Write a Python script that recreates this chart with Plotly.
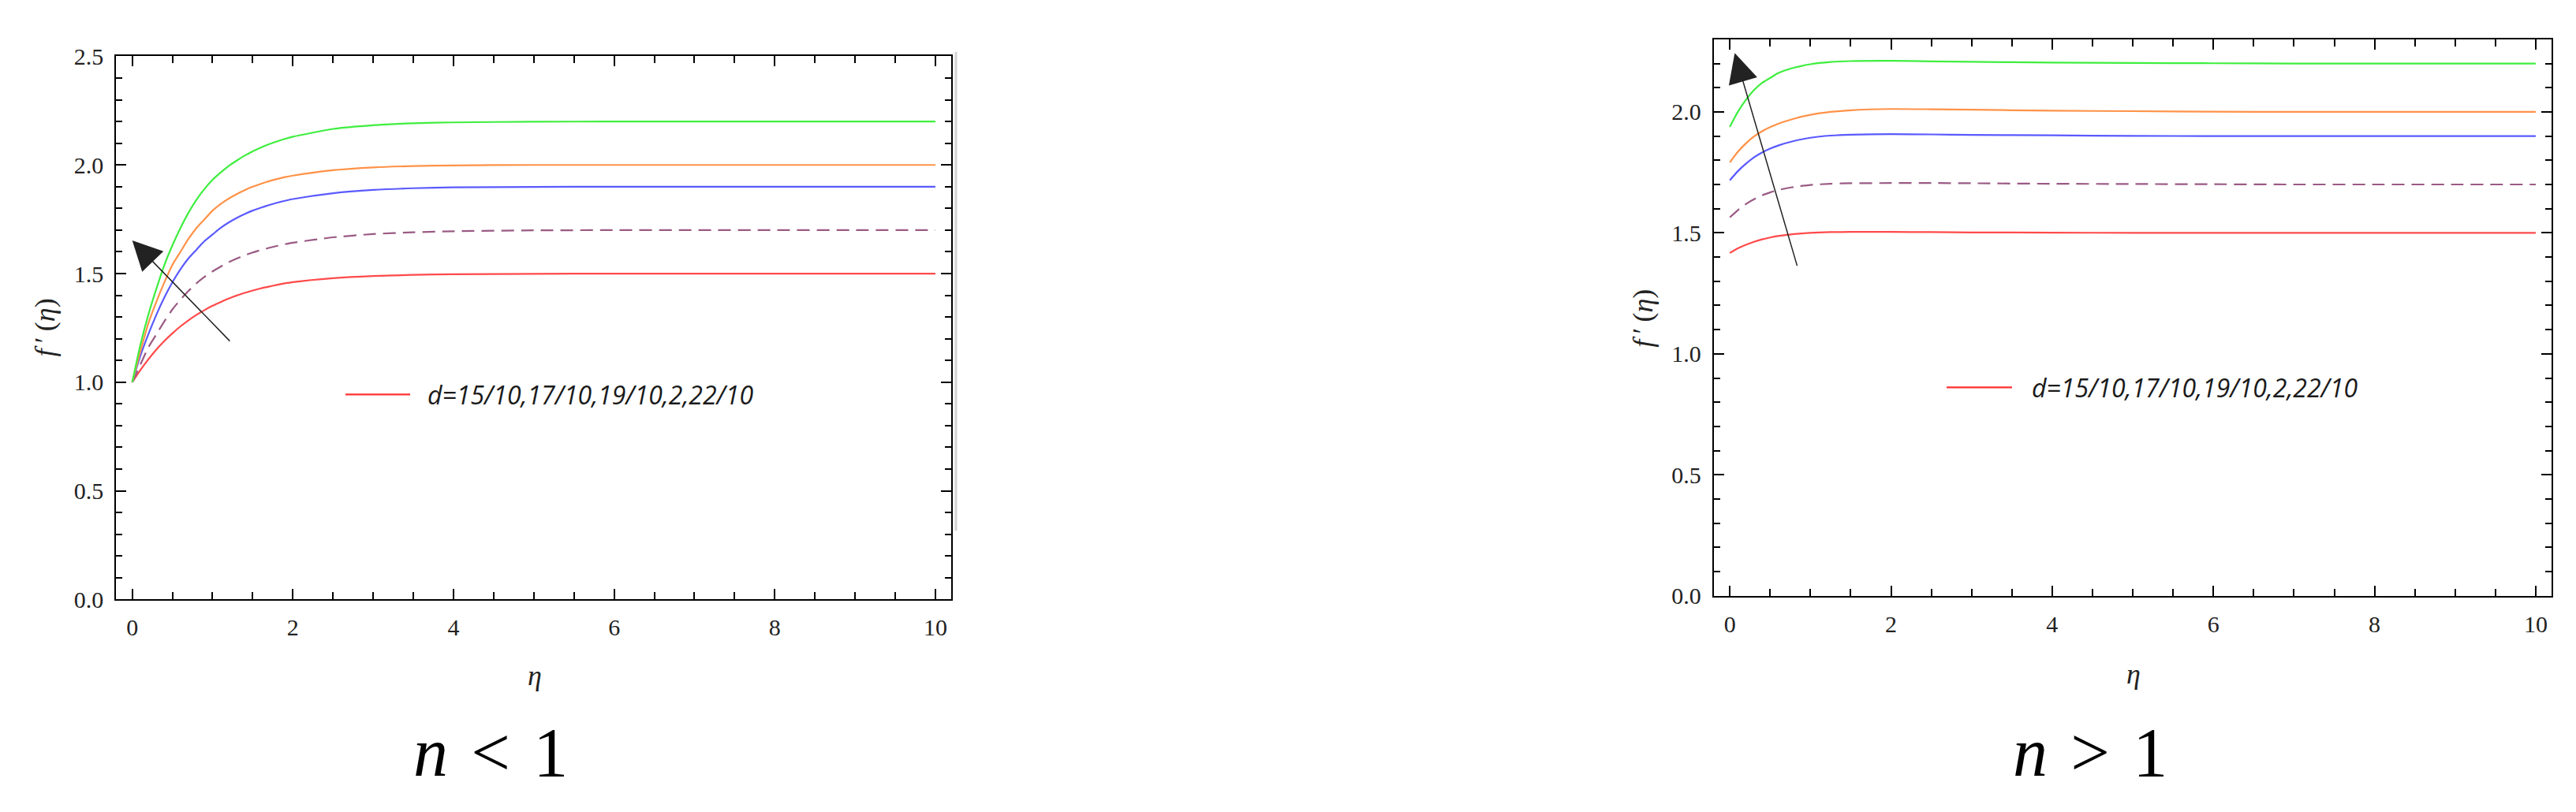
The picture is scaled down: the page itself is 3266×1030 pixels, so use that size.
import plotly.graph_objects as go

W, H = 3266, 1030

# ---------------- data ----------------
eta_left = [0, 0.1, 0.2, 0.3, 0.4, 0.5, 0.6, 0.7, 0.8, 0.9, 1.0, 1.1, 1.2, 1.3, 1.4, 1.5, 1.6, 1.7, 1.8, 1.9, 2.0,
            2.5, 3.0, 3.5, 4.0, 5.0, 6.0, 7.0, 8.0, 9.0, 10.0]
left_d15 = [1.00, 1.055, 1.105, 1.15, 1.19, 1.225, 1.257, 1.285, 1.31, 1.332, 1.352, 1.369, 1.385, 1.399, 1.411, 1.422,
            1.432, 1.44, 1.448, 1.455, 1.461, 1.479, 1.489, 1.494, 1.497, 1.499, 1.5, 1.5, 1.5, 1.5, 1.5]
left_d17 = [1.00, 1.08, 1.16, 1.22, 1.28, 1.335, 1.38, 1.42, 1.455, 1.485, 1.51, 1.532, 1.552, 1.569, 1.584, 1.597,
            1.608, 1.618, 1.627, 1.635, 1.642, 1.667, 1.682, 1.690, 1.695, 1.699, 1.7, 1.7, 1.7, 1.7, 1.7]
left_d19 = [1.00, 1.12, 1.22, 1.31, 1.39, 1.46, 1.52, 1.57, 1.61, 1.65, 1.68, 1.71, 1.735, 1.756, 1.774, 1.79,
            1.803, 1.815, 1.826, 1.835, 1.843, 1.870, 1.885, 1.893, 1.897, 1.899, 1.9, 1.9, 1.9, 1.9, 1.9]
left_d20 = [1.00, 1.14, 1.27, 1.37, 1.46, 1.54, 1.60, 1.66, 1.71, 1.75, 1.79, 1.82, 1.845, 1.866, 1.884, 1.90,
            1.913, 1.925, 1.935, 1.944, 1.951, 1.976, 1.989, 1.995, 1.998, 2.0, 2.0, 2.0, 2.0, 2.0, 2.0]
left_d22 = [1.00, 1.17, 1.31, 1.43, 1.54, 1.63, 1.71, 1.78, 1.84, 1.89, 1.932, 1.965, 1.995, 2.02, 2.043, 2.063,
            2.08, 2.095, 2.108, 2.12, 2.13, 2.166, 2.183, 2.192, 2.196, 2.199, 2.2, 2.2, 2.2, 2.2, 2.2]

eta_right = [0, 0.1, 0.2, 0.3, 0.4, 0.5, 0.6, 0.8, 1.0, 1.25, 1.5, 2.0, 2.5, 3.0, 4.0, 5.0, 6.0, 7.0, 8.0, 9.0, 10.0]
right_d15 = [1.417, 1.436, 1.451, 1.463, 1.473, 1.481, 1.487, 1.495, 1.5, 1.503, 1.504, 1.504, 1.503, 1.502, 1.501, 1.5, 1.5, 1.5, 1.5, 1.5, 1.5]
right_d17 = [1.564, 1.594, 1.619, 1.639, 1.655, 1.667, 1.677, 1.69, 1.698, 1.703, 1.705, 1.706, 1.706, 1.705, 1.703, 1.702, 1.701, 1.7, 1.7, 1.7, 1.7]
right_d19 = [1.717, 1.755, 1.786, 1.812, 1.832, 1.848, 1.861, 1.88, 1.893, 1.902, 1.906, 1.908, 1.907, 1.905, 1.903, 1.901, 1.9, 1.9, 1.9, 1.9, 1.9]
right_d20 = [1.791, 1.835, 1.87, 1.898, 1.92, 1.937, 1.951, 1.972, 1.988, 2.0, 2.007, 2.012, 2.011, 2.009, 2.005, 2.003, 2.001, 2.0, 2.0, 2.0, 2.0]
right_d22 = [1.938, 2.00, 2.05, 2.09, 2.12, 2.14, 2.16, 2.183, 2.197, 2.206, 2.21, 2.211, 2.209, 2.207, 2.204, 2.202, 2.201, 2.2, 2.2, 2.2, 2.2]

legend_text = "d=15/10,17/10,19/10,2,22/10"
y_ticks_left = [0.0, 0.5, 1.0, 1.5, 2.0, 2.5]
y_ticks_right = [0.0, 0.5, 1.0, 1.5, 2.0]
x_ticks = [0, 2, 4, 6, 8, 10]

# ---------------- styling ----------------
styles = [
    ("#ff4a4a", "solid"),      # d=1.5
    ("#9a5a84", "16px,9px"),   # d=1.7 dashed
    ("#5a5aff", "solid"),      # d=1.9
    ("#ff9248", "solid"),      # d=2.0
    ("#3fee3f", "solid"),      # d=2.2
]

SERIF = "Liberation Serif"
SANS = "Open Sans"


def px(x):
    return x / W


def py(y):
    return 1 - y / H


fig = go.Figure()

left_series = [left_d15, left_d17, left_d19, left_d20, left_d22]
right_series = [right_d15, right_d17, right_d19, right_d20, right_d22]

for ys, (c, d) in zip(left_series, styles):
    fig.add_trace(go.Scatter(x=eta_left, y=ys, mode="lines", xaxis="x", yaxis="y",
                             line=dict(color=c, width=2.2, dash=d, shape="spline", smoothing=0.6),
                             showlegend=False, hoverinfo="skip"))
for ys, (c, d) in zip(right_series, styles):
    fig.add_trace(go.Scatter(x=eta_right, y=ys, mode="lines", xaxis="x2", yaxis="y2",
                             line=dict(color=c, width=2.2, dash=d, shape="spline", smoothing=0.6),
                             showlegend=False, hoverinfo="skip"))

tickfont = dict(family=SERIF, size=30, color="#222")


def xaxis(domain, anchor):
    return dict(domain=domain, anchor=anchor, range=[-0.2, 10.2], tickmode="array", tickvals=x_ticks,
                showline=True, linecolor="black", linewidth=2, mirror="allticks",
                ticks="inside", ticklen=13, tickwidth=2, tickcolor="black",
                showgrid=False, zeroline=False, tickfont=tickfont, ticklabelstandoff=8,
                minor=dict(ticks="inside", ticklen=9, tickwidth=2, tickcolor="black", dtick=0.5, tick0=0, showgrid=False))


def yaxis(domain, anchor, rng, vals):
    return dict(domain=domain, anchor=anchor, range=rng, tickmode="array", tickvals=vals, tickformat=".1f",
                showline=True, linecolor="black", linewidth=2, mirror="allticks",
                ticks="inside", ticklen=13, tickwidth=2, tickcolor="black",
                showgrid=False, zeroline=False, tickfont=tickfont, ticklabelstandoff=8,
                minor=dict(ticks="inside", ticklen=8, tickwidth=2, tickcolor="black", dtick=0.1, tick0=0, showgrid=False))


fig.update_layout(
    width=W, height=H, margin=dict(l=0, r=0, t=0, b=0),
    paper_bgcolor="white", plot_bgcolor="white", showlegend=False,
    xaxis=xaxis([px(139.3), px(1198.3)], "y"),
    yaxis=yaxis([py(760), py(49)], "x", [0, 2.5], y_ticks_left),
    xaxis2=xaxis([px(2164.7), px(3227.4)], "y2"),
    yaxis2=yaxis([py(755.2), py(26.7)], "x2", [0, 2.3], y_ticks_right),
)

ann = []
shapes = []

# axis labels
label_font = dict(family=SERIF, size=36, color="#222")
for (xc, yc) in [(49, 404), (2075, 392)]:
    ann.append(dict(x=px(xc), y=py(yc), xref="paper", yref="paper", showarrow=False,
                    text="<i>f</i>\u2009′\u2009(<i>η</i>)", textangle=-90, font=label_font,
                    xanchor="center", yanchor="middle"))
for (xc, yc) in [(670, 860), (2697, 858)]:
    ann.append(dict(x=px(xc), y=py(yc), xref="paper", yref="paper", showarrow=False,
                    text="<i>η</i>", font=label_font, xanchor="center", yanchor="middle"))

# panel captions
cap_font = dict(family=SERIF, size=88, color="black")
ann.append(dict(x=px(614), y=py(960), xref="paper", yref="paper", showarrow=False,
                text="<i>n</i>\u2004&lt;\u20041", font=cap_font, xanchor="center", yanchor="middle"))
ann.append(dict(x=px(2642), y=py(960), xref="paper", yref="paper", showarrow=False,
                text="<i>n</i>\u2004&gt;\u20041", font=cap_font, xanchor="center", yanchor="middle"))

# legends (custom, single entry)
leg_font = dict(family=SANS, size=32, color="#1a1a1a")
for (x0, x1, yy, xt) in [(430, 512, 491.7, 532), (2460, 2543, 482.3, 2566)]:
    shapes.append(dict(type="line", xref="paper", yref="paper", x0=px(x0), x1=px(x1), y0=py(yy), y1=py(yy),
                       line=dict(color="#ff3030", width=2.2)))
    ann.append(dict(x=px(xt), y=py(yy), xref="paper", yref="paper", showarrow=False,
                    text="<i>" + legend_text + "</i>", font=leg_font, xanchor="left", yanchor="middle"))

# arrows
ann.append(dict(x=0.0, y=1.653, ax=1.229, ay=1.184, xref="x", yref="y", axref="x", ayref="y",
                text="", showarrow=True, arrowhead=2, arrowsize=5, arrowwidth=1.5, arrowcolor="#222"))
ann.append(dict(x=0.061, y=2.243, ax=0.84, ay=1.359, xref="x2", yref="y2", axref="x2", ayref="y2",
                text="", showarrow=True, arrowhead=2, arrowsize=5, arrowwidth=1.5, arrowcolor="#222"))

# faint grey border line at the right of left panel
shapes.append(dict(type="line", xref="paper", yref="paper", x0=px(1204), x1=px(1204), y0=py(43), y1=py(670),
                   line=dict(color="#d4d4d4", width=3)))

fig.update_layout(annotations=ann, shapes=shapes)

fig.write_html("out.html")
